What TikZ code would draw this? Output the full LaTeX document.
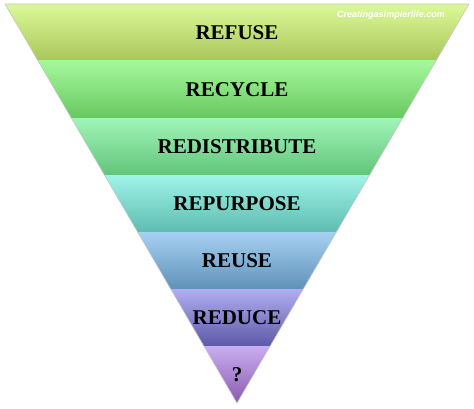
\documentclass[tikz,border=0pt]{standalone}
\usepackage{fontspec}
\setmainfont{Liberation Serif}
\newfontfamily\marksans{Liberation Sans}
\usetikzlibrary{positioning}

\definecolor{band0t}{HTML}{DCF99A}
\definecolor{band0b}{HTML}{A8C658}
\definecolor{band1t}{HTML}{A5F79B}
\definecolor{band1b}{HTML}{68C860}
\definecolor{band2t}{HTML}{A0F5B8}
\definecolor{band2b}{HTML}{62C47A}
\definecolor{band3t}{HTML}{A0F3E8}
\definecolor{band3b}{HTML}{5EBDB0}
\definecolor{band4t}{HTML}{A7D0F3}
\definecolor{band4b}{HTML}{5F92B8}
\definecolor{band5t}{HTML}{B0AEF0}
\definecolor{band5b}{HTML}{5E5AA8}
\definecolor{band6t}{HTML}{C9AEF0}
\definecolor{band6b}{HTML}{8A5AB0}

\tikzset{
	steplabel/.style={font=\fontsize{21}{25}\selectfont\bfseries, text=black, inner sep=0pt},
	watermark/.style={font=\marksans\fontsize{9}{11}\selectfont\bfseries\itshape, text=white, inner sep=0pt}
}

\begin{document}
\begin{tikzpicture}[x=1pt, y=1pt]
	\useasboundingbox (0,0) rectangle (474,408);
	% corners of the funnel
	\coordinate (tl) at (5,404);
	\coordinate (tr) at (469,404);
	\coordinate (apex) at (237,5);
	
	\begin{scope}
		\clip (tl) -- (tr) -- (apex) -- cycle;
		\foreach \i in {0, ..., 6} {
			\shade[top color=band\i t, bottom color=band\i b] (0,{404-57*\i}) rectangle (474,{404-57*(\i+1)});
		}
	\end{scope}
	\draw[gray!45, line width=0.6pt] (tl) -- (tr) -- (apex) -- cycle;
	
	\foreach \i/\nm/\txt in {0/refuse/REFUSE, 1/recycle/RECYCLE, 2/redistribute/REDISTRIBUTE,
		3/repurpose/REPURPOSE, 4/reuse/REUSE, 5/reduce/REDUCE, 6/unknown/?} {
		\node[steplabel] (\nm) at (237,{404-57*\i-28.5}) {\txt};
	}
	
	\node[watermark] (site) at (391,393) {Creatingasimplerlife.com};
\end{tikzpicture}
\end{document}
